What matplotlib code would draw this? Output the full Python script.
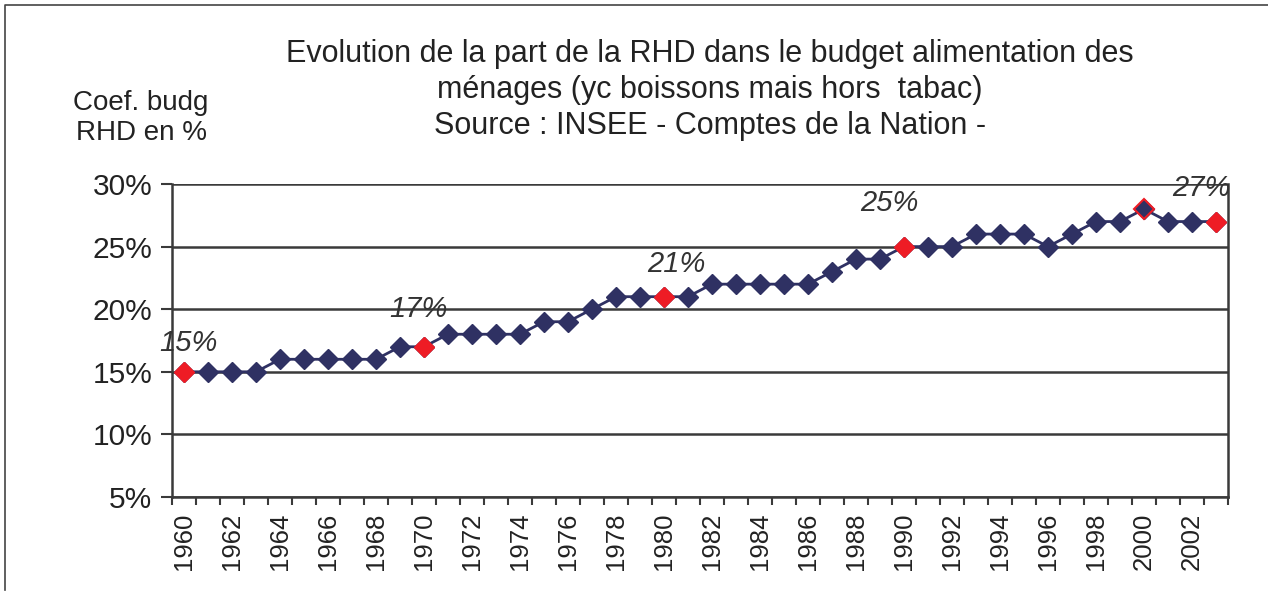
import matplotlib.pyplot as plt
from matplotlib.lines import Line2D
import numpy as np

plt.rcParams['font.family'] = ['Liberation Sans', 'DejaVu Sans']

years = list(range(1960, 2004))
part_rhd = [15, 15, 15, 15, 16, 16, 16, 16, 16, 17, 17, 18, 18, 18, 18, 19, 19, 20,
            21, 21, 21, 21, 22, 22, 22, 22, 22, 23, 24, 24, 25, 25, 25, 26, 26, 26,
            25, 26, 27, 27, 28, 27, 27, 27]
red_years = [1960, 1970, 1980, 1990, 2003]
ring_years = [2000]
# label text and where it sits (year index, value)
labels = ['15%', '17%', '21%', '25%', '27%']
label_x = [0.2, 9.75, 20.5, 29.4, 42.4]
label_y = [17.3, 20.0, 23.6, 28.5, 29.7]

navy = '#2f3163'
red = '#ee1c25'
grey = '#3a3a3a'

fig = plt.figure(figsize=(12.68, 5.92), dpi=100)
ax = fig.add_axes([172 / 1268, 1 - 497 / 592, 1056 / 1268, 313 / 592])

x = np.arange(len(years))
ax.plot(x, part_rhd, color=navy, lw=2, marker='D', ms=10, mec=navy, mfc=navy, zorder=3)
ri = [years.index(y) for y in red_years]
ax.plot(ri, [part_rhd[i] for i in ri], ls='none', marker='D', ms=10, mfc=red, mec=red, zorder=4)
gi = [years.index(y) for y in ring_years]
ax.plot(gi, [part_rhd[i] for i in gi], ls='none', marker='D', ms=10, mfc=navy, mec=red, mew=1.5, zorder=4)

for t, lx, ly in zip(labels, label_x, label_y):
    ax.text(lx, ly, t, ha='center', va='center', fontsize=21, style='italic', color='#333333', zorder=5)

ax.set_xlim(-0.5, len(years) - 0.5)
ax.set_ylim(5, 30)
ax.set_yticks([5, 10, 15, 20, 25, 30])
ax.set_yticklabels([f'{v}%' for v in [5, 10, 15, 20, 25, 30]], fontsize=21.5, color='#222222')
ax.yaxis.grid(True, color=grey, lw=1.8)
ax.set_axisbelow(True)

ax.set_xticks(x[::2])
ax.set_xticklabels([str(y) for y in years[::2]], rotation=90, fontsize=18.5, color='#222222')
ax.set_xticks(np.arange(-0.5, len(years)), minor=True)
ax.tick_params(axis='x', which='major', length=0, pad=11)
ax.tick_params(axis='x', which='minor', length=6, width=1.5, color=grey)
ax.tick_params(axis='y', length=8, width=1.5, color=grey, pad=6)

for s in ['left', 'bottom', 'right']:
    ax.spines[s].set_color(grey)
    ax.spines[s].set_linewidth(1.8)
ax.spines['top'].set_visible(False)

fig.text(710 / 1268, 1 - 90 / 592,
         'Evolution de la part de la RHD dans le budget alimentation des\n'
         'ménages (yc boissons mais hors  tabac)\n'
         'Source : INSEE - Comptes de la Nation -',
         ha='center', va='center', fontsize=22, color='#222222', linespacing=1.26)
fig.text(141 / 1268, 1 - 118 / 592, 'Coef. budg\nRHD en %', ha='center', va='center',
         fontsize=20, color='#222222', linespacing=1.2)

# outer frame (left and top only visible)
fig.add_artist(Line2D([5 / 1268, 5 / 1268, 1.0],
                      [2 / 592, 1 - 5 / 592, 1 - 5 / 592], color='#444444', lw=1.2,
                      transform=fig.transFigure))

fig.savefig('out.png', dpi=100)
